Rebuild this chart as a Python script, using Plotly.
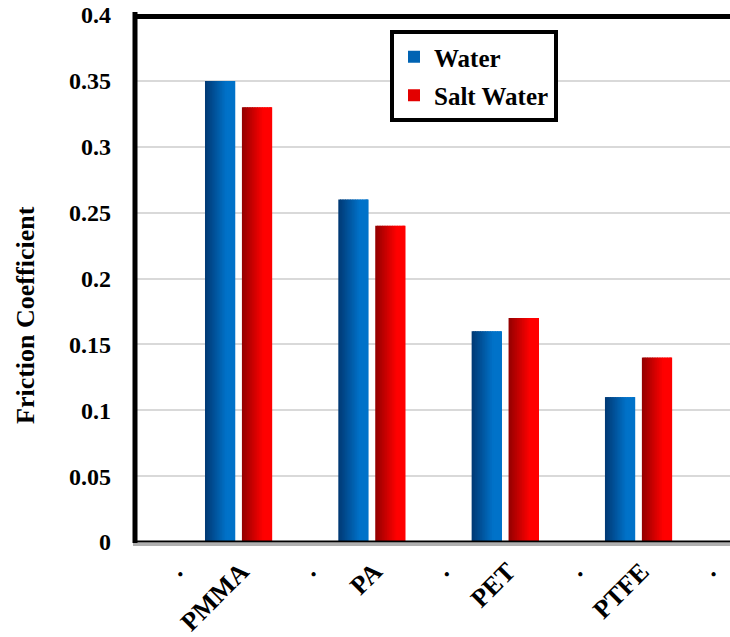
import plotly.graph_objects as go

categories = ["PMMA", "PA", "PET", "PTFE"]
water = [0.35, 0.26, 0.16, 0.11]
salt_water = [0.33, 0.24, 0.17, 0.14]
series_names = ["Water", "Salt Water"]
y_ticks = [0, 0.05, 0.1, 0.15, 0.2, 0.25, 0.3, 0.35, 0.4]
y_title = "Friction Coefficient"

W, H = 730, 637
ml, mr, mt, mb = 137, 0, 15, 95
pw = W - ml - mr
ph = H - mt - mb

def lerp(c1, c2, t):
    return "rgb(%d,%d,%d)" % tuple(round(a + (b - a) * t) for a, b in zip(c1, c2))

xpos = list(range(len(categories)))
fig = go.Figure()

N = 18
bar_w = 0.227
specs = [
    (water, series_names[0], -0.272, (0, 58, 118), (0, 114, 201)),
    (salt_water, series_names[1], 0.005, (150, 0, 0), (255, 0, 0)),
]
for vals, name, off0, c_dark, c_light in specs:
    sw = bar_w / N
    for i in range(N):
        t = min(1.0, (i / (N - 1)) / 0.72)
        col = lerp(c_dark, c_light, t)
        width = sw * (1.6 if i < N - 1 else 1.0)
        fig.add_trace(go.Bar(
            x=xpos, y=vals, name=name,
            offset=off0 + i * sw, width=width,
            marker=dict(color=col, line=dict(width=0)),
            showlegend=(i == N // 2), legendgroup=name,
            hoverinfo="skip",
        ))

tickvals, ticktext = [], []
for i, c in enumerate(categories):
    tickvals += [i - 0.5, i]
    ticktext += [".", c]
tickvals.append(len(categories) - 0.5)
ticktext.append(".")

font_family = "Liberation Serif"
shapes = [
    dict(type="line", xref="paper", yref="paper", x0=-2.0/pw, x1=-2.0/pw, y0=-1.0/ph, y1=1 + 3.0/ph,
         line=dict(color="black", width=5)),
    dict(type="line", xref="paper", yref="paper", x0=-4.0/pw, x1=1.0, y0=1 - 1.5/ph, y1=1 - 1.5/ph,
         line=dict(color="black", width=5)),
    dict(type="line", xref="paper", yref="paper", x0=-4.0/pw, x1=1.0, y0=-2.5/ph, y1=-2.5/ph,
         line=dict(color="#b0b0b0", width=3)),
    dict(type="line", xref="paper", yref="paper", x0=-4.0/pw, x1=1.0, y0=0.5/ph, y1=0.5/ph,
         line=dict(color="black", width=2)),
]

fig.update_layout(
    width=W, height=H,
    margin=dict(l=ml, r=mr, t=mt, b=mb, pad=0, autoexpand=False),
    paper_bgcolor="white", plot_bgcolor="white",
    barmode="overlay",
    font=dict(family=font_family, color="black", size=24),
    shapes=shapes,
    annotations=[dict(
        text=y_title, textangle=-90, xref="paper", yref="paper",
        x=(25 - ml) / pw, y=(H - mb - 315) / ph, xanchor="center", yanchor="middle",
        showarrow=False, font=dict(family=font_family, size=26, color="black", weight="bold"),
    )],
    legend=dict(
        x=(390 - ml) / pw, y=(H - mb - 30) / ph, xanchor="left", yanchor="top",
        bordercolor="black", borderwidth=4, bgcolor="white",
        font=dict(family=font_family, size=25, color="black", weight="bold"),
        traceorder="grouped", tracegroupgap=3,
    ),
    xaxis=dict(
        automargin=False,
        range=[-0.782, 3.666], tickmode="array", tickvals=tickvals, ticktext=ticktext,
        tickangle=-45, showgrid=False, zeroline=False, showline=False, ticks="",
        tickfont=dict(family=font_family, size=26, color="black", weight="bold"),
        ticklabelstandoff=8,
    ),
    yaxis=dict(
        automargin=False,
        range=[0, 0.4], tickmode="array", tickvals=y_ticks,
        ticktext=[("%g" % v) for v in y_ticks],
        showgrid=True, gridcolor="#d9d9d9", gridwidth=2, zeroline=False, showline=False,
        ticks="", ticklabelstandoff=25,
        tickfont=dict(family=font_family, size=24, color="black", weight="bold"),
    ),
)

fig.write_html("out.html", post_script="document.body.style.margin='0';",
               config={"displayModeBar": False})
